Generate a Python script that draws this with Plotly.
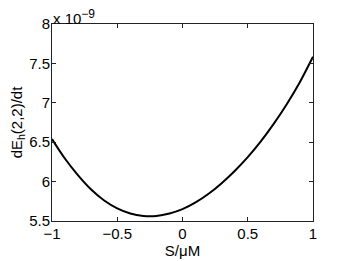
import plotly.graph_objects as go

# S / uM
s_values = [-1.0, -0.9, -0.8, -0.7, -0.6, -0.5, -0.4, -0.3, -0.2, -0.1, 0.0,
            0.1, 0.2, 0.3, 0.4, 0.5, 0.6, 0.7, 0.8, 0.9, 1.0]
# dE_h(2,2)/dt in units of 1e-9
dedt_values = [6.54, 6.29, 6.08, 5.90, 5.76, 5.66, 5.595, 5.565, 5.565, 5.595, 5.65,
               5.735, 5.845, 5.98, 6.135, 6.31, 6.51, 6.735, 6.985, 7.265, 7.585]

x_ticks = [-1, -0.5, 0, 0.5, 1]
y_ticks = [5.5, 6, 6.5, 7, 7.5, 8]

FONT = "Liberation Sans, Arial, Helvetica, sans-serif"
FS = 15

fig = go.Figure()
fig.add_trace(go.Scatter(x=s_values, y=dedt_values, mode="lines",
                         line=dict(color="black", width=2, smoothing=0.8), line_shape="spline",
                         showlegend=False, hoverinfo="skip"))

axis_common = dict(showline=True, linecolor="#222", linewidth=1, mirror="ticks",
                   ticks="inside", ticklen=4, tickcolor="#222", showgrid=False,
                   zeroline=False, tickfont=dict(family=FONT, size=FS, color="black"))

# page body has an 8px margin; the figure is sized so the plot lands where the reference has it
fig.update_layout(
    width=338, height=253,
    margin=dict(l=44, r=33, t=16, b=40),
    paper_bgcolor="white", plot_bgcolor="white",
    font=dict(family=FONT, size=FS, color="black"),
    xaxis=dict(range=[-1, 1], tickvals=x_ticks, ticklabelstandoff=-1,
               title=dict(text="S/μM", font=dict(family=FONT, size=FS), standoff=0),
               automargin=False, **axis_common),
    yaxis=dict(range=[5.5, 8], tickvals=y_ticks, ticklabelstandoff=-2,
               title=dict(text="dE<sub>h</sub>(2,2)/dt", font=dict(family=FONT, size=FS), standoff=4),
               automargin=False, **axis_common),
    annotations=[dict(text="x 10<sup><span style='font-size:12px'>−9</span></sup>",
                      xref="paper", yref="paper",
                      x=0, y=1, xanchor="left", yanchor="bottom", showarrow=False,
                      xshift=-1, yshift=-5, font=dict(family=FONT, size=FS, color="black"))],
)

fig.write_html("out.html")
